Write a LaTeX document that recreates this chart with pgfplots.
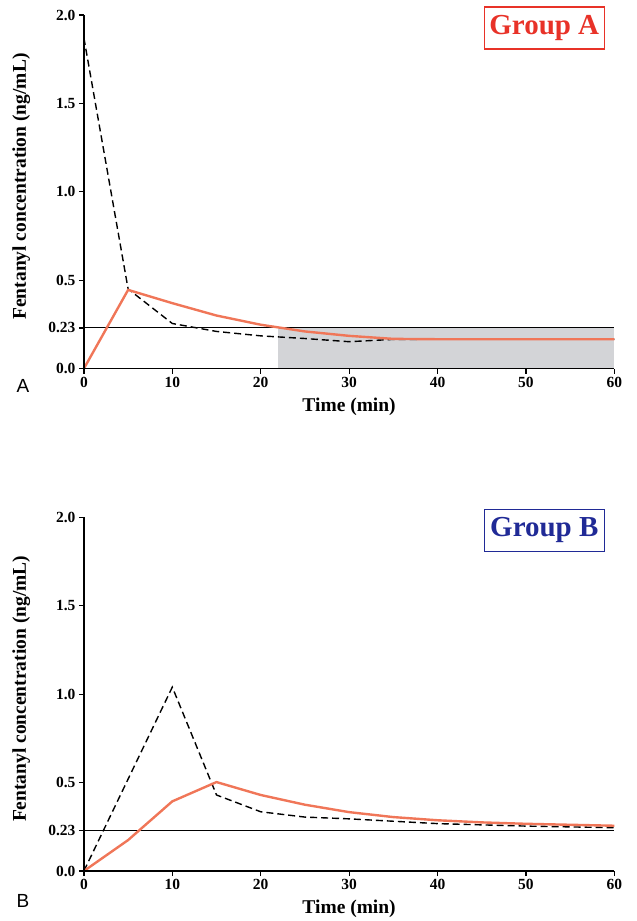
\documentclass[border=0pt]{standalone}
\usepackage{pgfplots}
\pgfplotsset{compat=1.18}
\usepackage{fontspec}
\setmainfont{Liberation Serif}
\newfontfamily\sansfont{Liberation Sans}
\definecolor{lineor}{RGB}{240,118,88}
\definecolor{grpred}{RGB}{232,50,40}
\definecolor{grpblue}{RGB}{32,42,150}
\definecolor{shade}{RGB}{211,212,215}
\begin{document}
\begin{tikzpicture}[x=1pt,y=1pt]
\path (0,0) rectangle (637,921);
\pgfplotsset{
  myaxis/.style={
    scale only axis, width=531pt, height=354pt, anchor=south west,
    axis lines=left, axis line style={line width=1.4pt,-},
    axis on top,
    xmin=0, xmax=60, ymin=0, ymax=2,
    xtick={0,10,...,60},
    ytick={0,0.23,0.5,1,1.5,2},
    yticklabels={0.0,0.23,0.5,1.0,1.5,2.0},
    tick align=outside, major tick length=5pt,
    tick style={line width=1.2pt,black},
    /pgf/number format/assume math mode=true,
    ticklabel style={font=\fontsize{15.5}{15.5}\selectfont\bfseries},
    xlabel={Time (min)}, ylabel={Fentanyl concentration (ng/mL)},
    label style={font=\fontsize{19.5}{19.5}\selectfont\bfseries},
    xlabel style={at={(axis description cs:0.5,-0.107)},anchor=center},
    ylabel style={at={(axis description cs:-0.118,0.515)},anchor=center},
    clip=false,
  }
}
\pgfplotstableread{
t c
0 1.87
5 0.45
10 0.255
15 0.21
20 0.185
25 0.17
30 0.152
35 0.165
40 0.166
50 0.166
60 0.166
}\Adash
\pgfplotstableread{
t c
0 0
5 0.445
10 0.37
15 0.30
20 0.248
25 0.21
30 0.185
35 0.168
40 0.166
50 0.166
60 0.166
}\Aor
\pgfplotstableread{
t c
0 0
10 1.04
15 0.43
20 0.335
25 0.305
30 0.295
40 0.268
50 0.254
60 0.245
}\Bdash
\pgfplotstableread{
t c
0 0
5 0.175
10 0.394
15 0.503
20 0.43
25 0.375
30 0.333
35 0.305
40 0.287
45 0.275
50 0.267
60 0.256
}\Bor
\begin{axis}[myaxis, at={(84pt,552pt)}]
\addplot[fill=shade, draw=none] coordinates {(22,0) (22,0.23) (60,0.23) (60,0)} -- cycle;
\addplot[black, line width=1.1pt] coordinates {(0,0.23) (60,0.23)};
\addplot[black, dashed, dash pattern=on 7pt off 4pt, line width=1.4pt] table[x=t,y=c] {\Adash};
\addplot[lineor, line width=2.4pt] table[x=t,y=c] {\Aor};
\node[draw=grpred, line width=1.3pt, text=grpred, font=\fontsize{29}{29}\selectfont\bfseries, minimum width=120pt, minimum height=42pt, inner sep=2pt] at (rel axis cs:0.868,0.963) {Group A};
\node[font=\fontsize{19}{19}\selectfont\sansfont] at (rel axis cs:-0.115,-0.05) {A};
\end{axis}
\begin{axis}[myaxis, at={(84pt,49pt)}]
\addplot[black, line width=1.1pt] coordinates {(0,0.23) (60,0.23)};
\addplot[black, dashed, dash pattern=on 7pt off 4pt, line width=1.4pt] table[x=t,y=c] {\Bdash};
\addplot[lineor, line width=2.4pt] table[x=t,y=c] {\Bor};
\node[draw=grpblue, line width=1.3pt, text=grpblue, font=\fontsize{29}{29}\selectfont\bfseries, minimum width=120pt, minimum height=42pt, inner sep=2pt] at (rel axis cs:0.868,0.963) {Group B};
\node[font=\fontsize{19}{19}\selectfont\sansfont] at (rel axis cs:-0.115,-0.085) {B};
\end{axis}
\end{tikzpicture}
\end{document}
